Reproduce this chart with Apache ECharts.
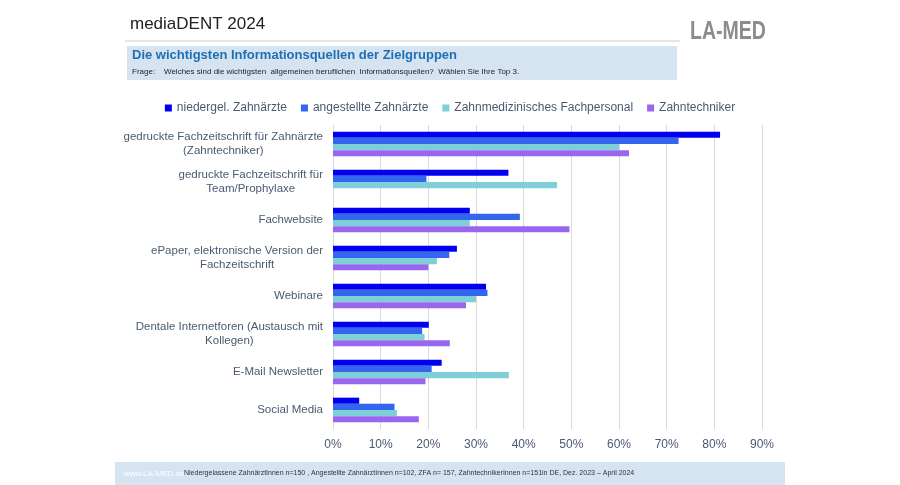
<!DOCTYPE html>
<html><head><meta charset="utf-8">
<script src="https://cdn.jsdelivr.net/npm/echarts@6/dist/echarts.min.js"></script>
<style>html,body{margin:0;padding:0;background:#fff}#c{width:900px;height:485px}</style>
</head><body><div id="c"></div>
<script>
const categories = ['gedruckte Fachzeitschrift für Zahnärzte\n(Zahntechniker)','gedruckte Fachzeitschrift für\nTeam/Prophylaxe','Fachwebsite','ePaper, elektronische Version der\nFachzeitschrift','Webinare','Dentale Internetforen (Austausch mit\nKollegen)','E-Mail Newsletter','Social Media'];
const seriesNames = ['niedergel. Zahnärzte','angestellte Zahnärzte','Zahnmedizinisches Fachpersonal','Zahntechniker'];
const niedergel = [81.2,36.8,28.7,26.0,32.1,20.1,22.8,5.5];
const angestellt = [72.5,19.6,39.2,24.4,32.4,18.7,20.7,12.9];
const zfa = [60.0,47.0,28.7,21.8,30.0,19.2,36.9,13.4];
const zt = [62.1,0,49.6,20.0,27.9,24.5,19.4,18.0];
const colors = ['#0000ee','#3366ee','#7ecfd8','#9966ee'];
const data = [niedergel,angestellt,zfa,zt];
const txt = '#4a5a72';
const ctx = document.createElement('canvas').getContext('2d');
ctx.font = '11.5px Liberation Sans';
const rich = {t:{fontFamily:'Liberation Sans',fontSize:11.5,color:txt,lineHeight:14}};
let pid = 0;
function fmt(value){
  const lines = value.split('\n');
  const ws = lines.map(l => ctx.measureText(l).width);
  const W = Math.max(...ws);
  return lines.map((l,i) => {
    const pad = (W - ws[i]) / 2;
    if (pad < 1) return '{t|' + l + '}';
    const k = 'p' + (pid++);
    rich[k] = {width:pad, lineHeight:14};
    return '{t|' + l + '}{' + k + '|}';
  }).join('\n');
}
const labelMap = {};
categories.forEach(c => labelMap[c] = fmt(c));
const chart = echarts.init(document.getElementById('c'));
chart.setOption({
  animation:false,
  color:colors,
  legend:{top:97,left:'center',itemWidth:7,itemHeight:7,itemGap:14,icon:'rect',
    textStyle:{fontFamily:'Liberation Sans',fontSize:12,color:txt}},
  grid:{left:333,right:138,top:125,bottom:56,outerBoundsMode:'none'},
  xAxis:{type:'value',min:0,max:90,interval:10,
    axisLabel:{formatter:'{value}%',fontFamily:'Liberation Sans',fontSize:12,color:txt,margin:10},
    splitLine:{lineStyle:{color:'#d9d9d9'}}},
  yAxis:{type:'category',inverse:true,data:categories,
    axisTick:{show:false},axisLine:{show:false},
    axisLabel:{align:'right',margin:10,formatter:v => labelMap[v],rich:rich}},
  series:data.map((d,i)=>({name:seriesNames[i],type:'bar',data:d,barGap:'0%',barCategoryGap:'35%'})),
  graphic:[
    {type:'text',left:130,top:16,style:{text:'mediaDENT 2024',font:'17px Liberation Sans',fill:'#222'}},
    {type:'line',shape:{x1:125,y1:41,x2:680,y2:41},style:{stroke:'#ccc',lineWidth:1}},
    {type:'text',x:690,y:20,scaleX:0.78,style:{text:'LA-MED',font:'bold 25px Liberation Sans',fill:'#8c8c8c'}},
    {type:'rect',shape:{x:127,y:46,width:550,height:34},style:{fill:'#d6e4f2'}},
    {type:'text',left:132,top:49,style:{text:'Die wichtigsten Informationsquellen der Zielgruppen',font:'bold 13px Liberation Sans',fill:'#1f6fb5'}},
    {type:'text',left:132,top:68,style:{text:'Frage:    Welches sind die wichtigsten  allgemeinen beruflichen  Informationsquellen?  Wählen Sie Ihre Top 3.',font:'8px Liberation Sans',fill:'#222'}},
    {type:'rect',shape:{x:115,y:462,width:670,height:23},style:{fill:'#d6e4f2'}},
    {type:'text',left:124,top:470,style:{text:'www.LA-MED.de',font:'8px Liberation Sans',fill:'#fff'}},
    {type:'text',left:184,top:470,style:{text:'Niedergelassene ZahnärztInnen n=150 , Angestellte ZahnärztInnen n=102, ZFA n= 157, ZahntechnikerInnen n=151in DE, Dez. 2023 – April 2024',font:'7px Liberation Sans',fill:'#333'}}
  ]
});
</script></body></html>
